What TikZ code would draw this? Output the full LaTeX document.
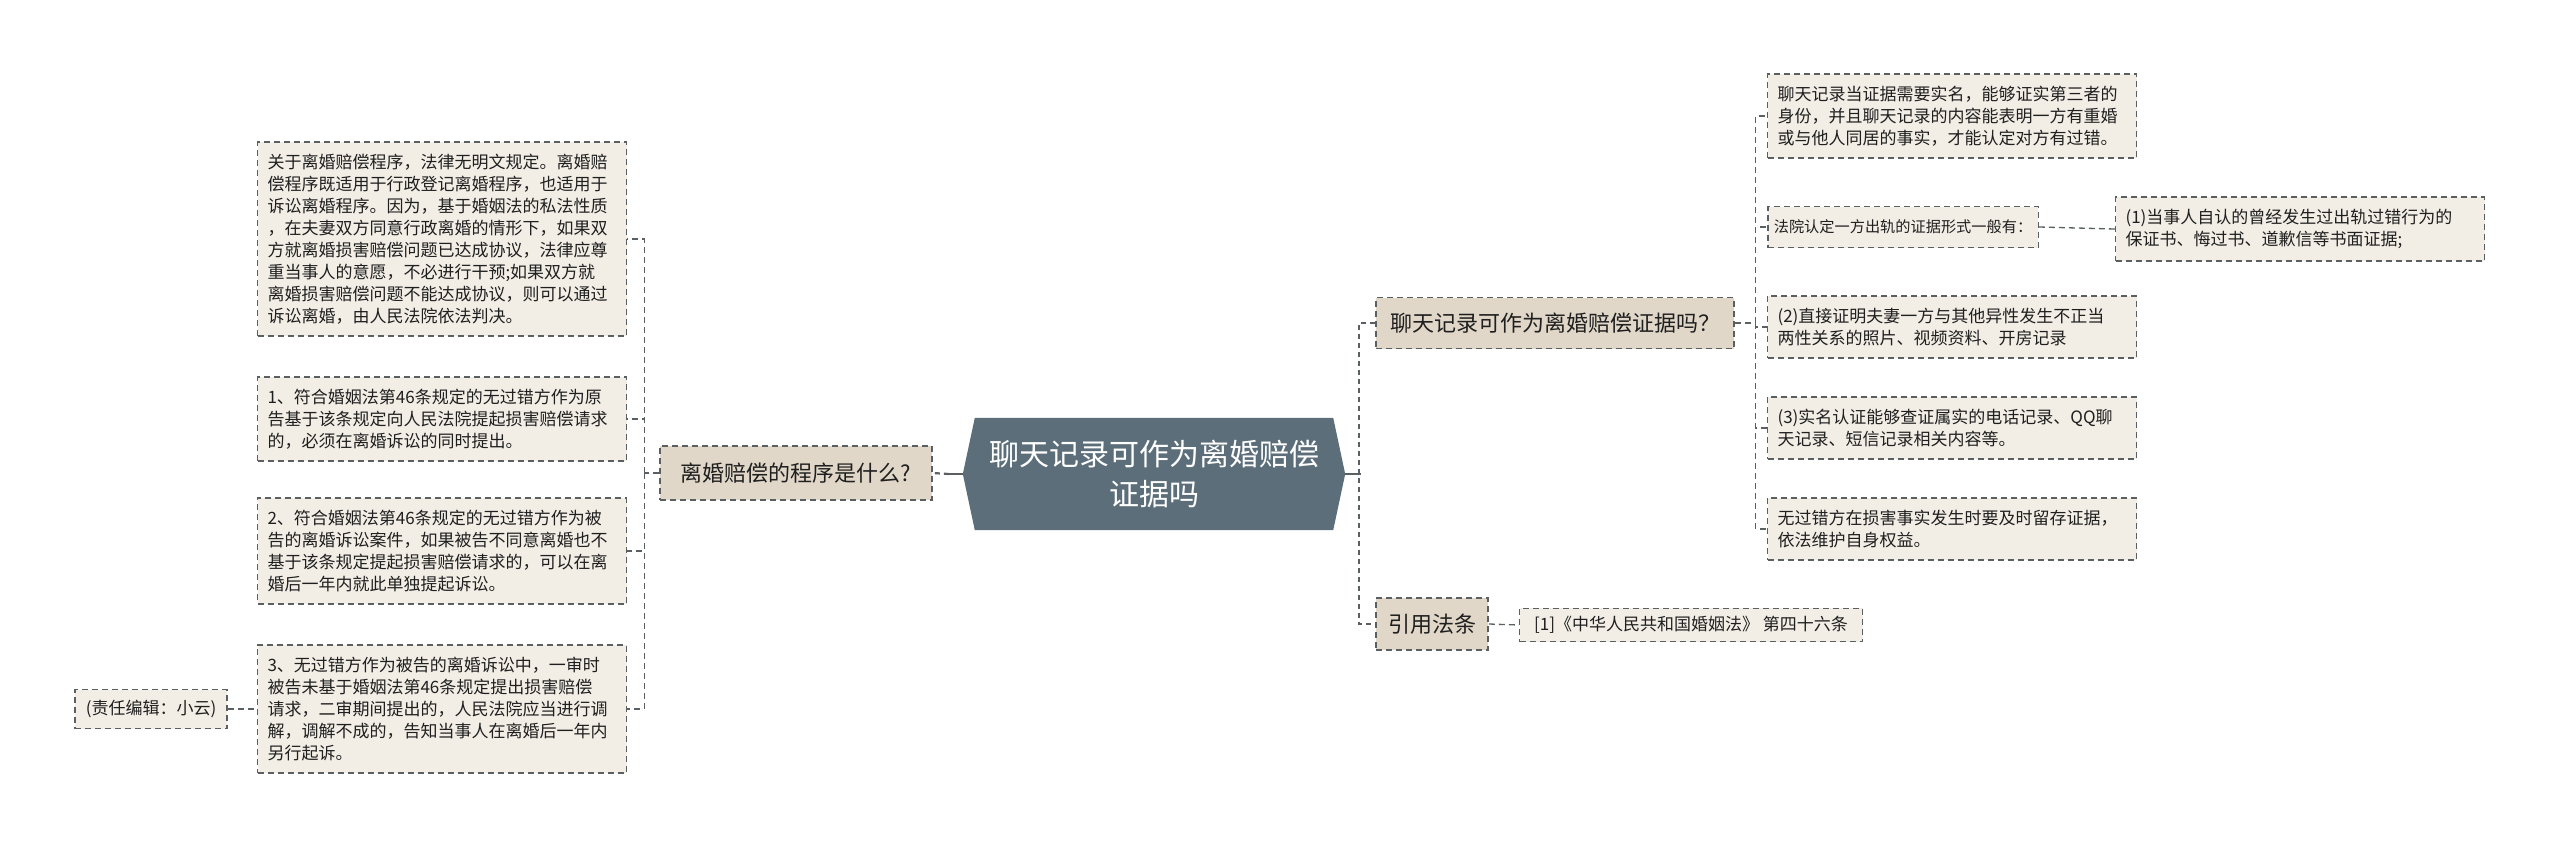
\documentclass[tikz,border=0pt]{standalone}
\usepackage{fontspec}
\setmainfont{Noto Sans CJK SC}
\usetikzlibrary{positioning,calc,backgrounds}

\definecolor{hubfill}{HTML}{5B6E7A}
\definecolor{branchfill}{HTML}{E0D7C8}
\definecolor{leaffill}{HTML}{F2EEE6}
\definecolor{edgegray}{HTML}{5A5F62}

\begin{document}
\begin{tikzpicture}[
    x=1pt, y=-1pt,
    hub/.style={
        rectangle,
        minimum width=382pt,
        minimum height=112pt,
        inner sep=0pt,
        align=center,
        text=white,
        font=\fontsize{30}{40}\selectfont
    },
    branch/.style={
        rectangle,
        draw=edgegray,
        fill=branchfill,
        line width=1.6pt,
        dash pattern=on 6pt off 4pt,
        inner xsep=10pt,
        text=black!88,
        font=\fontsize{22}{26}\selectfont
    },
    leaf/.style={
        rectangle,
        draw=edgegray,
        fill=leaffill,
        line width=1.4pt,
        dash pattern=on 6pt off 4pt,
        inner xsep=10pt,
        inner ysep=12pt,
        text width=349pt,
        align=left,
        text=black!88,
        font=\fontsize{17}{22}\selectfont
    },
    tag/.style={
        leaf,
        text width=,
        inner ysep=8pt
    },
    spine/.style={line width=2.2pt, edgegray},
    trunk/.style={line width=2.2pt, edgegray, dash pattern=on 5pt off 4pt},
    twig/.style={line width=1.3pt, edgegray, dash pattern=on 6pt off 4pt}
]
\useasboundingbox (0,0) rectangle (2560,849);

% --- Nodo central ---
\node[hub] (hub) at (1154, 474) {聊天记录可作为离婚赔偿\\证据吗};
\begin{scope}[on background layer]
\fill[hubfill] ([xshift=12pt]hub.north west) -- ([xshift=-12pt]hub.north east)
    -- (hub.east) -- ([xshift=-12pt]hub.south east)
    -- ([xshift=12pt]hub.south west) -- (hub.west) -- cycle;
\end{scope}

% --- Ramas ---
\node[branch, minimum width=272pt, minimum height=54pt] (steps) at (796, 473) {离婚赔偿的程序是什么?};
\node[branch, minimum width=358pt, minimum height=51pt] (chat) at (1555, 323) {聊天记录可作为离婚赔偿证据吗？};
\node[branch, minimum width=112pt, minimum height=52pt] (law) at (1432, 624) {引用法条};

% --- Hojas izquierda ---
\node[leaf] (s1) at (442, 239) {关于离婚赔偿程序，法律无明文规定。离婚赔\\偿程序既适用于行政登记离婚程序，也适用于\\诉讼离婚程序。因为，基于婚姻法的私法性质\\，在夫妻双方同意行政离婚的情形下，如果双\\方就离婚损害赔偿问题已达成协议，法律应尊\\重当事人的意愿，不必进行干预;如果双方就\\离婚损害赔偿问题不能达成协议，则可以通过\\诉讼离婚，由人民法院依法判决。};
\node[leaf] (s2) at (442, 419) {1、符合婚姻法第46条规定的无过错方作为原\\告基于该条规定向人民法院提起损害赔偿请求\\的，必须在离婚诉讼的同时提出。};
\node[leaf] (s3) at (442, 551) {2、符合婚姻法第46条规定的无过错方作为被\\告的离婚诉讼案件，如果被告不同意离婚也不\\基于该条规定提起损害赔偿请求的，可以在离\\婚后一年内就此单独提起诉讼。};
\node[leaf] (s4) at (442, 709) {3、无过错方作为被告的离婚诉讼中，一审时\\被告未基于婚姻法第46条规定提出损害赔偿\\请求，二审期间提出的，人民法院应当进行调\\解，调解不成的，告知当事人在离婚后一年内\\另行起诉。};
\node[tag, minimum width=152pt, minimum height=39pt] (editor) at (151, 709) {(责任编辑：小云)};

% --- Hojas derecha ---
\node[leaf] (c1) at (1952, 116) {聊天记录当证据需要实名，能够证实第三者的\\身份，并且聊天记录的内容能表明一方有重婚\\或与他人同居的事实，才能认定对方有过错。};
\node[tag, minimum width=270pt, minimum height=41pt, inner xsep=6pt, font=\fontsize{15.2}{20}\selectfont] (c2) at (1903, 227) {法院认定一方出轨的证据形式一般有：};
\node[leaf] (c2a) at (2300, 229) {(1)当事人自认的曾经发生过出轨过错行为的\\保证书、悔过书、道歉信等书面证据;};
\node[leaf] (c3) at (1952, 327) {(2)直接证明夫妻一方与其他异性发生不正当\\两性关系的照片、视频资料、开房记录};
\node[leaf] (c4) at (1952, 428) {(3)实名认证能够查证属实的电话记录、QQ聊\\天记录、短信记录相关内容等。};
\node[leaf] (c5) at (1952, 529) {无过错方在损害事实发生时要及时留存证据，\\依法维护自身权益。};
\node[tag, minimum width=343pt, minimum height=33pt] (lawref) at (1691, 625) {[1]《中华人民共和国婚姻法》 第四十六条};

% --- Conexiones centrales ---
\draw[spine] (hub.west) -- ++(-14,0);
\draw[trunk] ([xshift=-14pt]hub.west) -- (steps.east);
\draw[spine] (hub.east) -- ++(16,0);
\draw[trunk] (chat.west) -- ++(-16,0) |- (law.west);

% --- Conexiones izquierda ---
\draw[twig] (steps.west) -- ++(-15,0) coordinate (sj);
\foreach \n in {s1,s2,s3,s4}
    \draw[twig] (sj) |- (\n.east);
\draw[twig] (editor.east) -- (s4.west);

% --- Conexiones derecha ---
\draw[twig] (chat.east) -- ++(21,0) coordinate (cj);
\foreach \n in {c1,c2,c3,c4,c5}
    \draw[twig] (cj) |- (\n.west);
\draw[twig] (c2.east) -- (c2a.west);
\draw[twig] (law.east) -- (lawref.west);

\end{tikzpicture}
\end{document}
